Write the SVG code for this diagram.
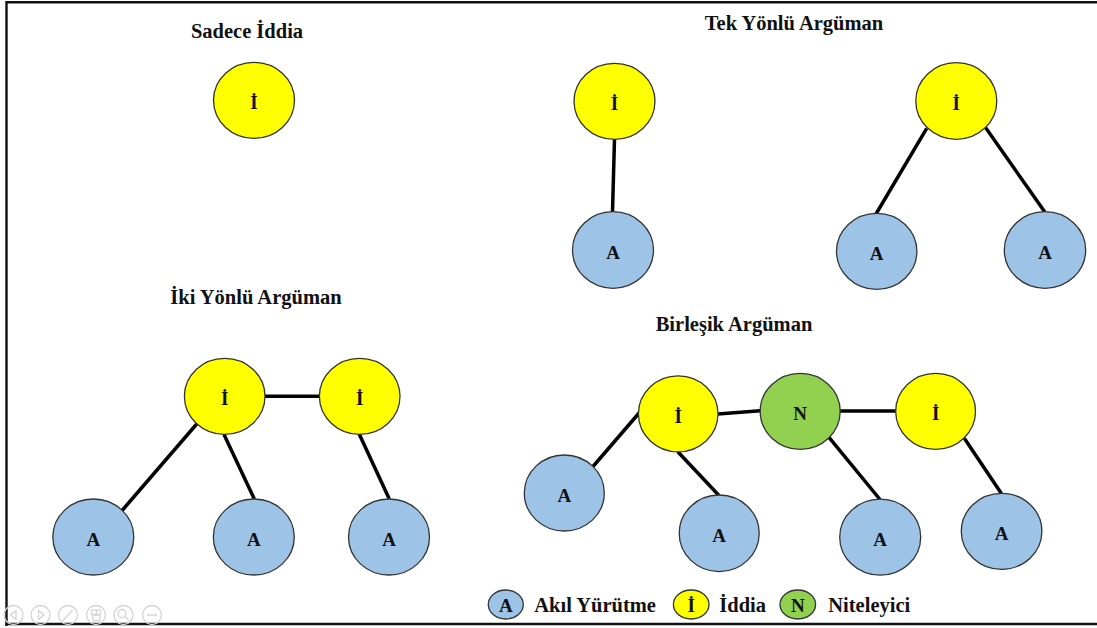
<svg xmlns="http://www.w3.org/2000/svg" width="1097" height="628" viewBox="0 0 1097 628">
  <style>
    text { font-family: 'Liberation Serif', 'DejaVu Serif', 'Times New Roman', serif; font-weight: bold; fill: #111; }
    .title { font-size: 20.5px; text-anchor: middle; }
    .lbl { font-size: 19px; text-anchor: middle; }
    .leg { font-size: 20.5px; }
    .claim { fill: #FFFF00; stroke: #333; stroke-width: 1.3; }
    .reason { fill: #9DC3E6; stroke: #333; stroke-width: 1.3; }
    .qual { fill: #92D050; stroke: #333; stroke-width: 1.3; }
    .edge { stroke: #000; stroke-width: 3.5; fill: none; stroke-linecap: butt; }
    .ctl { fill: none; stroke: #d4d4d4; stroke-width: 1.3; }
    .ctlf { fill: #d4d4d4; }
  </style>

  <rect x="0" y="0" width="1097" height="628" fill="#ffffff"/>

  <!-- frame -->
  <g id="frame" fill="none" stroke="#111" stroke-width="2.4">
    <path d="M6.5,626 V2.2 H1097"/>
    <path d="M5.3,624 H1097"/>
  </g>

  <!-- section titles -->
  <g id="titles" font-family="Liberation Serif, serif">
    <text class="title" x="247" y="38">Sadece İddia</text>
    <text class="title" x="794" y="30">Tek Yönlü Argüman</text>
    <text class="title" x="256" y="304">İki Yönlü Argüman</text>
    <text class="title" x="734" y="331">Birleşik Argüman</text>
  </g>

  <!-- connectors -->
  <g id="connectors">
    <!-- Tek Yönlü, single -->
    <line class="edge" x1="614.5" y1="139" x2="612.5" y2="212"/>
    <!-- Tek Yönlü, double -->
    <line class="edge" x1="926.7" y1="128.3" x2="876" y2="214"/>
    <line class="edge" x1="985.7" y1="127.7" x2="1045" y2="212.3"/>
    <!-- İki Yönlü -->
    <line class="edge" x1="265" y1="396.3" x2="319.5" y2="396.3"/>
    <line class="edge" x1="196.7" y1="424" x2="121.7" y2="511"/>
    <line class="edge" x1="224" y1="434.5" x2="254.3" y2="499"/>
    <line class="edge" x1="359.3" y1="434.3" x2="389.3" y2="499"/>
    <!-- Birleşik -->
    <line class="edge" x1="593" y1="466.5" x2="639.5" y2="412.5"/>
    <line class="edge" x1="717.8" y1="414" x2="760.2" y2="410.8"/>
    <line class="edge" x1="677.8" y1="451.7" x2="719" y2="495.5"/>
    <line class="edge" x1="840" y1="411" x2="896" y2="411"/>
    <line class="edge" x1="829" y1="437.3" x2="880" y2="499.5"/>
    <line class="edge" x1="964.3" y1="438.3" x2="1001.4" y2="493.5"/>
  </g>

  <!-- Sadece İddia -->
  <g id="n-claim-only">
    <ellipse class="claim" cx="254" cy="100.3" rx="40.5" ry="38"/>
    <text class="lbl" x="254" y="109">İ</text>
  </g>

  <!-- Tek Yönlü Argüman -->
  <g id="n-tek1-claim">
    <ellipse class="claim" cx="614.5" cy="101.3" rx="40.5" ry="38"/>
    <text class="lbl" x="614.5" y="110">İ</text>
  </g>
  <g id="n-tek1-reason">
    <ellipse class="reason" cx="613" cy="250" rx="40.5" ry="38.3"/>
    <text class="lbl" x="613" y="258.5">A</text>
  </g>
  <g id="n-tek2-claim">
    <ellipse class="claim" cx="956.3" cy="101" rx="40.5" ry="38.3"/>
    <text class="lbl" x="956.3" y="109.5">İ</text>
  </g>
  <g id="n-tek2-reason1">
    <ellipse class="reason" cx="876.7" cy="251.3" rx="40.2" ry="38"/>
    <text class="lbl" x="876.7" y="260">A</text>
  </g>
  <g id="n-tek2-reason2">
    <ellipse class="reason" cx="1045" cy="250" rx="40.7" ry="38.3"/>
    <text class="lbl" x="1045" y="258.5">A</text>
  </g>

  <!-- İki Yönlü Argüman -->
  <g id="n-iki-claim1">
    <ellipse class="claim" cx="224.7" cy="396.3" rx="40.3" ry="38"/>
    <text class="lbl" x="224.7" y="405">İ</text>
  </g>
  <g id="n-iki-claim2">
    <ellipse class="claim" cx="359.7" cy="396.3" rx="40.3" ry="38"/>
    <text class="lbl" x="359.7" y="405">İ</text>
  </g>
  <g id="n-iki-reason1">
    <ellipse class="reason" cx="93.3" cy="537" rx="40.5" ry="38"/>
    <text class="lbl" x="93.3" y="546">A</text>
  </g>
  <g id="n-iki-reason2">
    <ellipse class="reason" cx="253.8" cy="537" rx="40.5" ry="38"/>
    <text class="lbl" x="253.8" y="546">A</text>
  </g>
  <g id="n-iki-reason3">
    <ellipse class="reason" cx="389" cy="537" rx="40.5" ry="38"/>
    <text class="lbl" x="389" y="546">A</text>
  </g>

  <!-- Birleşik Argüman -->
  <g id="n-bir-claim1">
    <ellipse class="claim" cx="678.2" cy="413.8" rx="39.8" ry="38"/>
    <text class="lbl" x="678.2" y="422.5">İ</text>
  </g>
  <g id="n-bir-qualifier">
    <ellipse class="qual" cx="800.2" cy="411.3" rx="40" ry="38"/>
    <text class="lbl" x="800.2" y="420">N</text>
  </g>
  <g id="n-bir-claim2">
    <ellipse class="claim" cx="935.6" cy="411.3" rx="39.9" ry="38"/>
    <text class="lbl" x="935.6" y="420">İ</text>
  </g>
  <g id="n-bir-reason1">
    <ellipse class="reason" cx="564.3" cy="493" rx="40" ry="38"/>
    <text class="lbl" x="564.3" y="501.5">A</text>
  </g>
  <g id="n-bir-reason2">
    <ellipse class="reason" cx="719.2" cy="533.3" rx="40" ry="38.3"/>
    <text class="lbl" x="719.2" y="542">A</text>
  </g>
  <g id="n-bir-reason3">
    <ellipse class="reason" cx="880.2" cy="537.2" rx="40.5" ry="38"/>
    <text class="lbl" x="880.2" y="546">A</text>
  </g>
  <g id="n-bir-reason4">
    <ellipse class="reason" cx="1001.6" cy="531.3" rx="40.3" ry="38"/>
    <text class="lbl" x="1001.6" y="540">A</text>
  </g>

  <!-- legend -->
  <g id="legend">
    <ellipse class="reason" cx="505.8" cy="604.5" rx="17.5" ry="14.5"/>
    <text class="lbl" x="505.8" y="611.5">A</text>
    <text class="leg" x="534.3" y="612">Akıl Yürütme</text>
    <ellipse class="claim" cx="691.2" cy="604.5" rx="17.8" ry="14.5"/>
    <text class="lbl" x="691.2" y="611.5">İ</text>
    <text class="leg" x="719.3" y="612">İddia</text>
    <ellipse class="qual" cx="797.8" cy="604.5" rx="17.8" ry="14.5"/>
    <text class="lbl" x="797.8" y="611.5">N</text>
    <text class="leg" x="828.3" y="612">Niteleyici</text>
  </g>

  <!-- slideshow control buttons -->
  <g id="controls">
    <circle class="ctl" cx="13.5" cy="615" r="9.5"/>
    <path class="ctl" d="M16,610.5 L10.5,615 L16,619.5 Z"/>
    <circle class="ctl" cx="40.5" cy="615" r="9.5"/>
    <path class="ctl" d="M38.5,610.5 L44,615 L38.5,619.5 Z"/>
    <circle class="ctl" cx="68" cy="615" r="9.5"/>
    <path class="ctl" d="M63.5,620 L72.5,610 M62.5,621 L64.5,618.5" stroke-width="2"/>
    <circle class="ctl" cx="96" cy="615" r="9.5"/>
    <rect class="ctl" x="91.5" y="610" width="5" height="4.5"/>
    <rect class="ctl" x="96.5" y="610" width="4" height="4.5"/>
    <rect class="ctl" x="93" y="615" width="7" height="5.5"/>
    <circle class="ctl" cx="123.5" cy="615" r="9.5"/>
    <circle class="ctl" cx="122" cy="613.5" r="4"/>
    <path class="ctl" d="M125,616.5 L129,620.5" stroke-width="2"/>
    <circle class="ctl" cx="152" cy="615" r="9.5"/>
    <circle class="ctlf" cx="148.5" cy="615" r="1.3"/>
    <circle class="ctlf" cx="152" cy="615" r="1.3"/>
    <circle class="ctlf" cx="155.5" cy="615" r="1.3"/>
  </g>
</svg>
